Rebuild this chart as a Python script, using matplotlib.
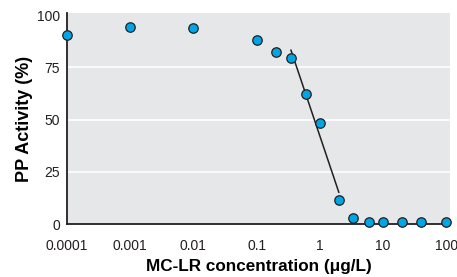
import matplotlib
matplotlib.use("Agg")
import matplotlib.pyplot as plt
from matplotlib import font_manager

conc = [0.0001, 0.001, 0.01, 0.1, 0.2, 0.35, 0.6, 1.0, 2.0, 3.4, 6, 10, 20, 40, 100]
activity = [90.3, 94.5, 93.8, 88, 82.5, 79.5, 62.1, 48.3, 11.6, 2.7, 0.8, 1.0, 1.0, 1.0, 0.8]
fit_x = [0.35, 2.0]
fit_y = [83.2, 15.2]
xticks = [0.0001, 0.001, 0.01, 0.1, 1, 10, 100]
xticklabels = ["0.0001", "0.001", "0.01", "0.1", "1", "10", "100"]
yticks = [0, 25, 50, 75, 100]

names = {f.name for f in font_manager.fontManager.ttflist}
fam = ["Liberation Sans Narrow", "DejaVu Sans"] if "Liberation Sans Narrow" in names else ["Liberation Sans", "DejaVu Sans"]
plt.rcParams["font.family"] = fam

fig = plt.figure(figsize=(4.57, 2.77), dpi=100)
ax = fig.add_axes([0.1466, 0.1913, 0.8381, 0.7617])
ax.set_facecolor("#e6e7e8")
ax.set_xscale("log")
ax.set_xlim(1e-4, 115)
ax.set_ylim(0, 101)
for y in [25, 50, 75]:
    ax.axhline(y, color="white", lw=1.2, zorder=1)
ax.plot(fit_x, fit_y, color="#231f20", lw=1.1, zorder=2)
ax.plot(conc, activity, "o", ms=6.8, mfc="#00a5e5", mec="#231f20", mew=0.9, zorder=3, clip_on=False)
ax.set_xticks(xticks)
ax.set_xticklabels(xticklabels)
ax.minorticks_off()
ax.set_yticks(yticks)
ax.tick_params(length=0, labelsize=10, colors="#231f20")
ax.tick_params(axis="x", pad=10.5)
ax.tick_params(axis="y", pad=5)
for s in ["top", "right"]:
    ax.spines[s].set_visible(False)
for s in ["left", "bottom"]:
    ax.spines[s].set_color("#231f20")
    ax.spines[s].set_linewidth(1.3)
ax.set_xlabel("MC-LR concentration (\u03bcg/L)", fontsize=12.3, fontweight="bold", labelpad=4.5)
ax.set_ylabel("PP Activity (%)", fontsize=13, fontweight="bold", labelpad=3)
fig.savefig("out.png", dpi=100)
